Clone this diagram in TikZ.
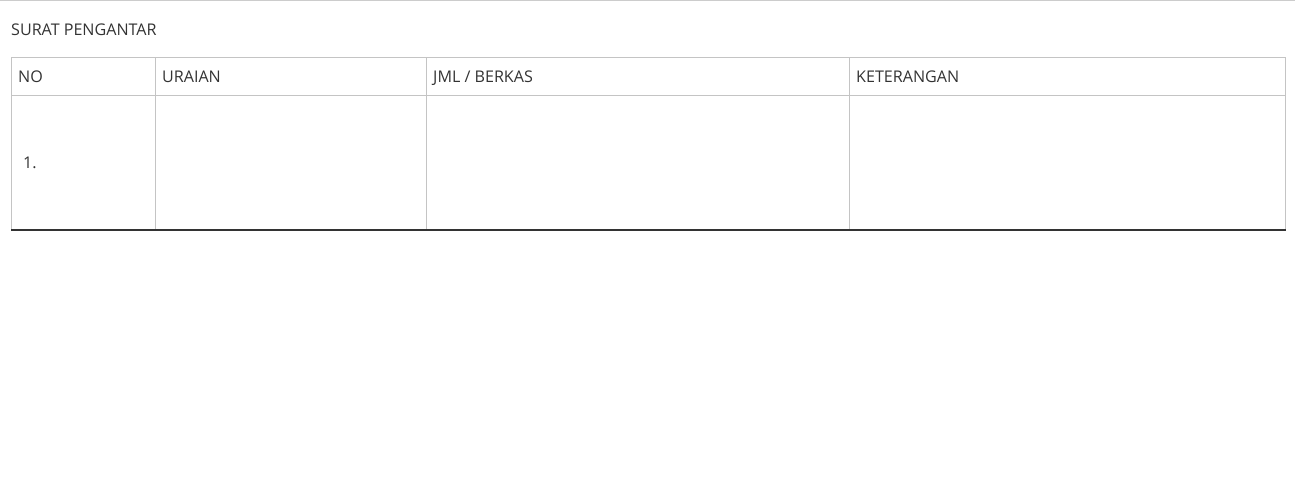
\documentclass[tikz,border=0pt]{standalone}
\usepackage{fontspec}
\setmainfont{Open Sans}
\usetikzlibrary{positioning,calc}
\definecolor{rule}{HTML}{C4C4C4}
\definecolor{topline}{HTML}{CCCCCC}
\definecolor{ink}{HTML}{333333}

\begin{document}
\begin{tikzpicture}[x=1pt, y=-1pt,
    celltext/.style={anchor=base west, inner sep=0pt, font=\fontsize{16.1}{18}\selectfont, text=ink},
    grid/.style={draw=rule, line width=1pt}]

    % Page frame
    \useasboundingbox (0,0) rectangle (1297,501);
    \draw[topline, line width=1pt] (0,0.5) -- (1295,0.5);

    % Title
    \node[celltext] (title) at (11,35) {SURAT PENGANTAR};

    % Table rules
    \draw[grid] (11.5,57.5) rectangle (1285.5,229);
    \draw[grid] (11.5,95.5) -- (1285.5,95.5);
    \foreach \x in {155.5,426.5,849.5} {
        \draw[grid] (\x,57.5) -- (\x,229);
    }
    \draw[ink, line width=2pt] (11,229.5) -- (1286,229.5);

    % Header cells
    \node[celltext] (no) at (18,82) {NO};
    \node[celltext] (uraian) at (162,82) {URAIAN};
    \node[celltext] (jml) at (433,82) {JML / BERKAS};
    \node[celltext] (ket) at (856,82) {KETERANGAN};

    % First row
    \node[celltext] (row1) at (23,168) {1.};
\end{tikzpicture}
\end{document}
